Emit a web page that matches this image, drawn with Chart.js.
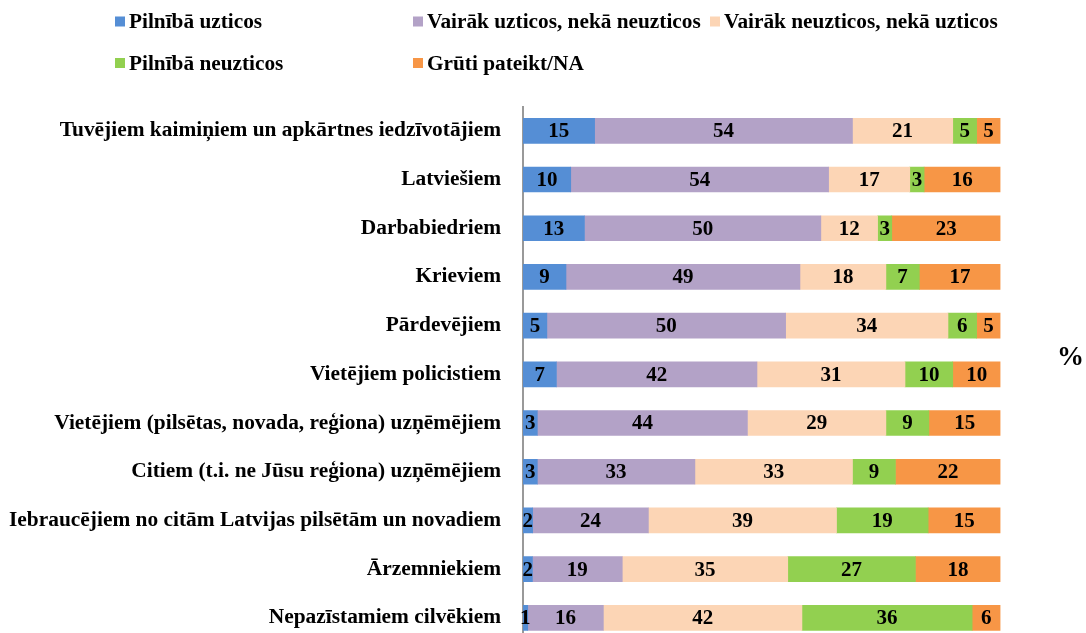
<!DOCTYPE html>
<html>
<head>
<meta charset="utf-8">
<script src="https://cdn.jsdelivr.net/npm/chart.js@4/dist/chart.umd.min.js"></script>
<style>
html,body{margin:0;padding:0;background:#fff;overflow:hidden;}
canvas{display:block;}
</style>
</head>
<body>
<canvas id="c" width="1086" height="677"></canvas>
<script>
const categories = [
  "Tuvējiem kaimiņiem un apkārtnes iedzīvotājiem",
  "Latviešiem",
  "Darbabiedriem",
  "Krieviem",
  "Pārdevējiem",
  "Vietējiem policistiem",
  "Vietējiem (pilsētas, novada, reģiona) uzņēmējiem",
  "Citiem (t.i. ne Jūsu reģiona) uzņēmējiem",
  "Iebraucējiem no citām Latvijas pilsētām un novadiem",
  "Ārzemniekiem",
  "Nepazīstamiem cilvēkiem"
];
const seriesNames = [
  "Pilnībā uzticos",
  "Vairāk uzticos, nekā neuzticos",
  "Vairāk neuzticos, nekā uzticos",
  "Pilnībā neuzticos",
  "Grūti pateikt/NA"
];
const fullyTrust      = [15, 10, 13, 9, 5, 7, 3, 3, 2, 2, 1];
const moreTrust       = [54, 54, 50, 49, 50, 42, 44, 33, 24, 19, 16];
const moreDistrust    = [21, 17, 12, 18, 34, 31, 29, 33, 39, 35, 42];
const fullyDistrust   = [5, 3, 3, 7, 6, 10, 9, 9, 19, 27, 36];
const hardToSay       = [5, 16, 23, 17, 5, 10, 15, 22, 15, 18, 6];
const colors = ["#558ED5", "#B3A2C7", "#FCD5B5", "#92D050", "#F79646"];
const unitLabel = "%";

const seriesValues = [fullyTrust, moreTrust, moreDistrust, fullyDistrust, hardToSay];
const FONT = '"Liberation Serif", "Times New Roman", serif';

// 100% stacked: each row is normalised to its total
const rowTotals = categories.map((_, r) => seriesValues.reduce((s, arr) => s + arr[r], 0));

const datasets = seriesNames.map((n, i) => ({
  label: n,
  data: seriesValues[i].map((v, r) => v / rowTotals[r] * 100),
  raw: seriesValues[i],
  backgroundColor: colors[i],
  borderWidth: 0,
  barThickness: 25
}));

const labelPlugin = {
  id: 'labels',
  afterDatasetsDraw(chart) {
    const ctx = chart.ctx;
    ctx.save();
    ctx.fillStyle = '#000';
    ctx.font = 'bold 21px ' + FONT;
    ctx.textAlign = 'center';
    ctx.textBaseline = 'middle';
    chart.data.datasets.forEach((ds, di) => {
      const meta = chart.getDatasetMeta(di);
      meta.data.forEach((el, i) => {
        const cx = (el.x + el.base) / 2;
        ctx.fillText(String(ds.raw[i]), cx, el.y + 1);
      });
    });
    ctx.font = 'bold 27px ' + FONT;
    ctx.textAlign = 'left';
    ctx.fillText(unitLabel, 1057, 358);
    ctx.restore();
  },
  afterDraw(chart) {
    const ctx = chart.ctx;
    ctx.save();
    const colX = [115, 413, 710];
    const rowY = [21.5, 63];
    ctx.font = 'bold 21.3px ' + FONT;
    ctx.textBaseline = 'middle';
    ctx.textAlign = 'left';
    seriesNames.forEach((n, i) => {
      const x = colX[i % 3], y = rowY[Math.floor(i / 3)];
      ctx.fillStyle = colors[i];
      ctx.fillRect(x, y - 5, 10, 10);
      ctx.fillStyle = '#000';
      ctx.fillText(n, x + 14, y + 1);
    });
    ctx.restore();
  }
};

new Chart(document.getElementById('c'), {
  type: 'bar',
  data: { labels: categories, datasets },
  options: {
    indexAxis: 'y',
    responsive: false,
    animation: false,
    layout: { padding: { top: 106.5, right: 85.5, bottom: 0, left: 0 } },
    plugins: { legend: { display: false }, tooltip: { enabled: false } },
    scales: {
      x: { stacked: true, min: 0, max: 100, display: false },
      y: {
        stacked: true,
        grid: { display: false, drawTicks: false },
        border: { display: true, color: '#999', width: 2 },
        ticks: { color: '#000', font: { family: FONT, size: 21.4, weight: 'bold' }, padding: 22, autoSkip: false },
        afterFit(scale) { scale.width = 523; }
      }
    }
  },
  plugins: [labelPlugin]
});
</script>
</body>
</html>
